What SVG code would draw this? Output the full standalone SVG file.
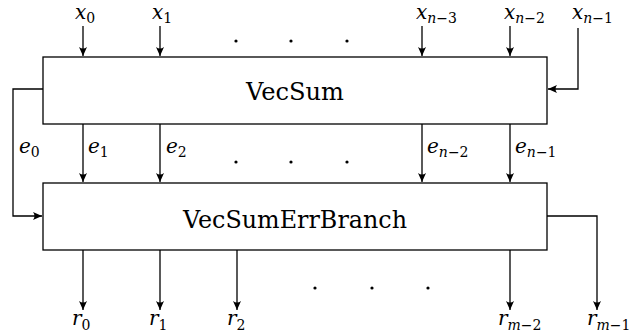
<svg xmlns="http://www.w3.org/2000/svg" width="635" height="336" viewBox="0 0 635 336">
<style>
.box{fill:#fff;stroke:#000;stroke-width:1.3}
.ln{fill:none;stroke:#000;stroke-width:1.3}
.dot{fill:#000}
.t{font-family:"DejaVu Serif",serif;font-size:24px}
.l{font-family:"DejaVu Serif",serif;font-size:20px}
.i{font-style:italic}
.s{font-size:14px}
</style>
<defs>
<marker id="arr" markerUnits="userSpaceOnUse" markerWidth="12" markerHeight="10" viewBox="-10 -5 12 10" refX="0" refY="0" orient="auto">
<path d="M0,0 L-9,-4 Q-6,0 -9,4 Z" fill="#000"/>
</marker>
</defs>
<g id="VecSum">
<rect class="box" x="43" y="57" width="504" height="67"/>
<text class="t" x="295" y="100" text-anchor="middle" textLength="98" lengthAdjust="spacingAndGlyphs">VecSum</text>
</g>
<g id="VecSumErrBranch">
<rect class="box" x="43" y="183" width="504" height="67"/>
<text class="t" x="295" y="228" text-anchor="middle" textLength="224" lengthAdjust="spacingAndGlyphs">VecSumErrBranch</text>
</g>
<g id="connectors">
<path class="ln" d="M83,26 V56" marker-end="url(#arr)"/>
<path class="ln" d="M160,26 V56" marker-end="url(#arr)"/>
<path class="ln" d="M422,26 V56" marker-end="url(#arr)"/>
<path class="ln" d="M510,26 V56" marker-end="url(#arr)"/>
<path class="ln" d="M578,28 V89 H548" marker-end="url(#arr)"/>
<path class="ln" d="M43,89 H13 V216 H42" marker-end="url(#arr)"/>
<path class="ln" d="M83,124 V182" marker-end="url(#arr)"/>
<path class="ln" d="M160,124 V182" marker-end="url(#arr)"/>
<path class="ln" d="M422,124 V182" marker-end="url(#arr)"/>
<path class="ln" d="M510,124 V182" marker-end="url(#arr)"/>
<path class="ln" d="M83,250 V310" marker-end="url(#arr)"/>
<path class="ln" d="M160,250 V310" marker-end="url(#arr)"/>
<path class="ln" d="M237,250 V310" marker-end="url(#arr)"/>
<path class="ln" d="M510,250 V310" marker-end="url(#arr)"/>
<path class="ln" d="M547,216 H597 V310" marker-end="url(#arr)"/>
</g>
<g id="labels">
<text class="l" x="75" y="19"><tspan class="i">x</tspan><tspan class="s" dy="4">0</tspan></text>
<text class="l" x="152" y="19"><tspan class="i">x</tspan><tspan class="s" dy="4">1</tspan></text>
<text class="l" x="416" y="19"><tspan class="i">x</tspan><tspan class="s i" dy="4">n</tspan><tspan class="s">−3</tspan></text>
<text class="l" x="504" y="19"><tspan class="i">x</tspan><tspan class="s i" dy="4">n</tspan><tspan class="s">−2</tspan></text>
<text class="l" x="572" y="19"><tspan class="i">x</tspan><tspan class="s i" dy="4">n</tspan><tspan class="s">−1</tspan></text>
<text class="l" x="19" y="153"><tspan class="i">e</tspan><tspan class="s" dy="4">0</tspan></text>
<text class="l" x="88" y="153"><tspan class="i">e</tspan><tspan class="s" dy="4">1</tspan></text>
<text class="l" x="166" y="153"><tspan class="i">e</tspan><tspan class="s" dy="4">2</tspan></text>
<text class="l" x="427" y="153"><tspan class="i">e</tspan><tspan class="s i" dy="4">n</tspan><tspan class="s">−2</tspan></text>
<text class="l" x="515" y="153"><tspan class="i">e</tspan><tspan class="s i" dy="4">n</tspan><tspan class="s">−1</tspan></text>
<text class="l" x="72" y="325"><tspan class="i">r</tspan><tspan class="s" dy="5">0</tspan></text>
<text class="l" x="149" y="325"><tspan class="i">r</tspan><tspan class="s" dy="5">1</tspan></text>
<text class="l" x="227" y="325"><tspan class="i">r</tspan><tspan class="s" dy="5">2</tspan></text>
<text class="l" x="498" y="325"><tspan class="i">r</tspan><tspan class="s i" dy="5">m</tspan><tspan class="s">−2</tspan></text>
<text class="l" x="587" y="325"><tspan class="i">r</tspan><tspan class="s i" dy="5">m</tspan><tspan class="s">−1</tspan></text>
</g>
<g id="dots">
<circle class="dot" cx="236" cy="41" r="1.6"/>
<circle class="dot" cx="291" cy="41" r="1.6"/>
<circle class="dot" cx="347" cy="41" r="1.6"/>
<circle class="dot" cx="236" cy="162" r="1.6"/>
<circle class="dot" cx="291" cy="162" r="1.6"/>
<circle class="dot" cx="347" cy="162" r="1.6"/>
<circle class="dot" cx="315" cy="288" r="1.6"/>
<circle class="dot" cx="372" cy="288" r="1.6"/>
<circle class="dot" cx="428" cy="288" r="1.6"/>
</g>
</svg>
